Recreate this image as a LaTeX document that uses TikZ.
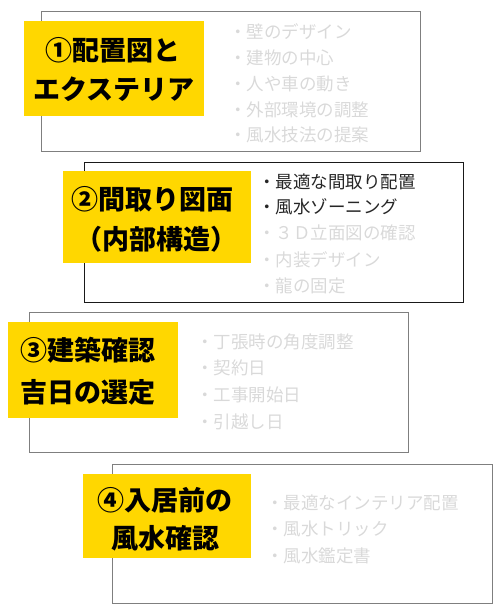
\documentclass[tikz,border=0pt]{standalone}
\usepackage{fontspec}
\newfontfamily\jp{Noto Sans CJK JP}
\definecolor{gold}{HTML}{FFD700}
\definecolor{lightgray}{HTML}{D9D9D9}
\definecolor{darktext}{HTML}{262626}
\definecolor{framegray}{HTML}{7F7F7F}
\tikzset{
  frame/.style={draw=framegray, line width=1pt},
  frameblack/.style={draw=black!90, line width=1pt},
  titlebox/.style={fill=gold},
  titletext/.style={anchor=base, inner sep=0pt, font=\jp\bfseries\fontsize{27}{30}\selectfont, text=black},
  item/.style={anchor=base west, inner sep=0pt, font=\jp\fontsize{17.5}{20}\selectfont, text=lightgray},
  itemdark/.style={item, text=darktext},
}
\begin{document}
\begin{tikzpicture}[x=1pt,y=-1pt]
\useasboundingbox (0,0) rectangle (500,610);
% box 1
\draw[frame] (41,12) rectangle (420,151);
\fill[titlebox] (24,21) rectangle (204,116);
\node[titletext] (t1a) at (113,60) {①配置図と};
\node[titletext] (t1b) at (114,99.5) {エクステリア};
\node[item] (i1a) at (229,38.5) {・壁のデザイン};
\node[item] (i1b) at (229,64.8) {・建物の中心};
\node[item] (i1c) at (229,90) {・人や車の動き};
\node[item] (i1d) at (229,116.5) {・外部環境の調整};
\node[item] (i1e) at (229,141.5) {・風水技法の提案};
% box 2
\draw[frameblack] (84,162) rectangle (463,302);
\fill[titlebox] (63,171) rectangle (251,263);
\node[titletext] (t2a) at (152,209) {②間取り図面};
\node[titletext] (t2b) at (156,249) {（内部構造）};
\node[itemdark] (i2a) at (258,188.5) {・最適な間取り配置};
\node[itemdark] (i2b) at (258,213.5) {・風水ゾーニング};
\node[item] (i2c) at (258,239.5) {・３Ｄ立面図の確認};
\node[item] (i2d) at (258,266) {・内装デザイン};
\node[item] (i2e) at (258,292.5) {・龍の固定};
% box 3
\draw[frame] (29,312) rectangle (408,452);
\fill[titlebox] (8,322) rectangle (178,418);
\node[titletext] (t3a) at (88,360) {③建築確認};
\node[titletext] (t3b) at (88,402) {吉日の選定};
\node[item] (i3a) at (196,348.5) {・丁張時の角度調整};
\node[item] (i3b) at (196,374.5) {・契約日};
\node[item] (i3c) at (196,401.5) {・工事開始日};
\node[item] (i3d) at (196,428.5) {・引越し日};
% box 4
\draw[frame] (112,464) rectangle (492,603);
\fill[titlebox] (83,474) rectangle (251,558);
\node[titletext] (t4a) at (165,510) {④入居前の};
\node[titletext] (t4b) at (165,548) {風水確認};
\node[item] (i4a) at (266,509.5) {・最適なインテリア配置};
\node[item] (i4b) at (266,535.5) {・風水トリック};
\node[item] (i4c) at (266,562.5) {・風水鑑定書};
\end{tikzpicture}
\end{document}
